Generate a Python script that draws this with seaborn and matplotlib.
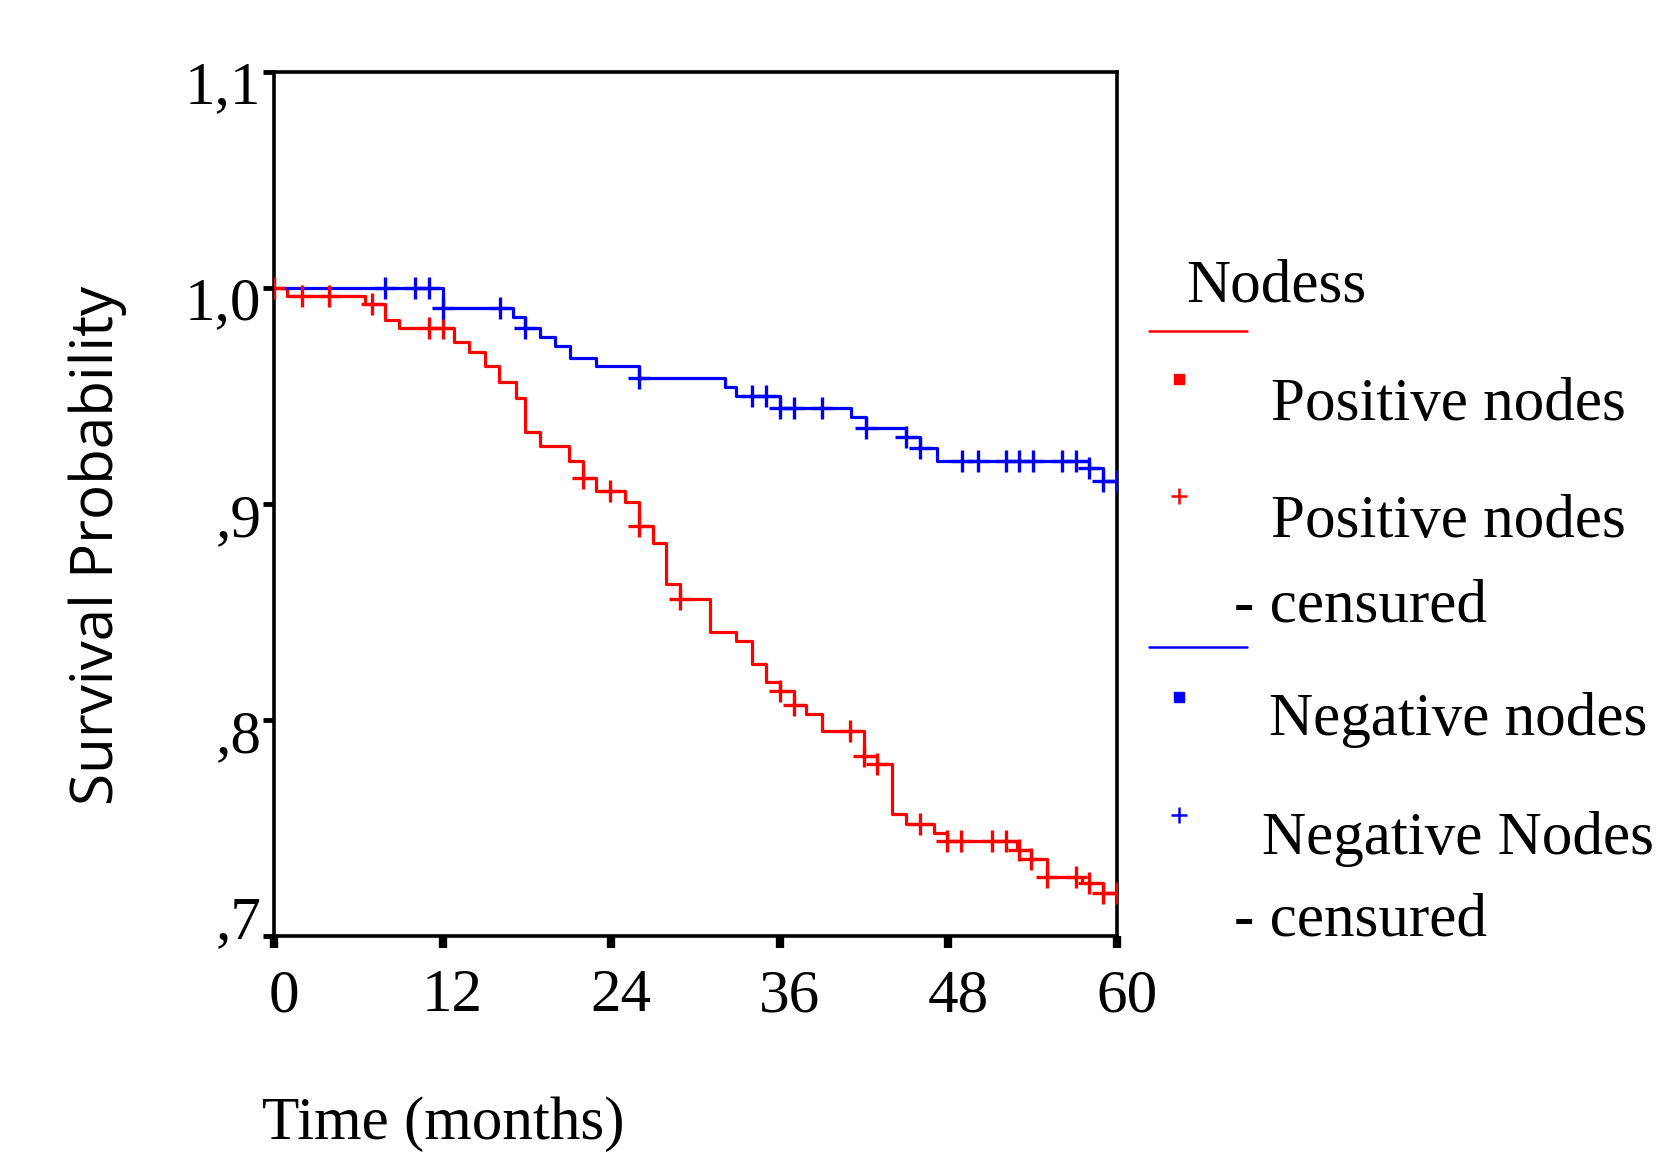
import numpy as np
import pandas as pd
import seaborn as sns
import matplotlib.pyplot as plt
from matplotlib.lines import Line2D
from matplotlib.transforms import ScaledTranslation

# Kaplan-Meier steps (time in months, survival after the step)
pos_time = [0, 0.9, 6.5, 7.9, 8.9, 12.8, 13.9, 15.0, 16.0, 17.2, 17.9, 18.9, 21.0, 22.0,
            22.9, 25.0, 26.0, 27.0, 27.9, 28.9, 31.0, 32.9, 34.0, 35.0, 36.0, 37.0, 37.9,
            39.0, 42.0, 42.9, 44.0, 45.0, 47.0, 47.9, 52.9, 53.9, 55.0, 57.5, 59.0, 60.0]
pos_surv = [1.0, 0.9963, 0.9924, 0.9852, 0.9813, 0.9751, 0.9705, 0.9639, 0.9563, 0.9489,
            0.9335, 0.9269, 0.9199, 0.9119, 0.9062, 0.9010, 0.8898, 0.8818, 0.8628, 0.8560,
            0.8409, 0.8367, 0.8258, 0.8177, 0.8136, 0.8069, 0.8026, 0.7948, 0.7833, 0.7796,
            0.7565, 0.7519, 0.7478, 0.7441, 0.7398, 0.7355, 0.7275, 0.7245, 0.7198, 0.7198]
pos_cens = [0, 2.0, 3.9, 7.0, 11.0, 12.0, 22.0, 23.9, 26.0, 28.9, 36.0, 37.0, 41.0, 42.0,
            42.9, 46.0, 47.9, 48.9, 51.1, 52.1, 53.0, 53.9, 55.0, 57.1, 58.0, 59.0, 60.0]

neg_time = [0, 12.0, 17.0, 17.9, 18.9, 20.0, 21.1, 22.9, 26.0, 32.1, 32.9, 36.0, 41.1,
            42.1, 45.0, 46.0, 47.2, 58.0, 59.0, 60.0]
neg_surv = [1.0, 0.9906, 0.9867, 0.9813, 0.9772, 0.9731, 0.9674, 0.9639, 0.9582, 0.9543,
            0.9500, 0.9446, 0.9404, 0.9350, 0.9309, 0.9258, 0.9199, 0.9165, 0.9108, 0.9108]
neg_cens = [7.9, 10.0, 11.0, 12.0, 16.1, 17.9, 26.0, 34.0, 35.0, 36.0, 37.0, 39.0, 42.1,
            45.0, 46.0, 49.0, 50.1, 52.1, 53.0, 54.0, 56.1, 57.1, 58.0, 59.0, 60.0]

x_ticks = [0, 12, 24, 36, 48, 60]
x_ticklabels = ["0", "12", "24", "36", "48", "60"]
y_ticks = [0.7, 0.8, 0.9, 1.0, 1.1]
y_ticklabels = [",7", ",8", ",9", "1,0", "1,1"]

RED = "#ff0000"
BLUE = "#0000ff"
SERIF = "Liberation Serif"


def censor_points(times, surv, cens):
    # survival value of the step curve at each censoring time
    t = np.array(times)
    s = np.array(surv)
    idx = np.searchsorted(t, np.array(cens), side="right") - 1
    return pd.DataFrame({"time": cens, "surv": s[idx]})


sns.set_theme(style="white")
plt.rcParams["font.family"] = [SERIF, "DejaVu Sans"]
plt.rcParams["text.color"] = "black"
plt.rcParams["axes.labelcolor"] = "black"
plt.rcParams["xtick.color"] = "black"
plt.rcParams["ytick.color"] = "black"

fig = plt.figure(figsize=(16.64, 11.54), dpi=100)
ax = fig.add_axes([274 / 1664, 1 - 936 / 1154, 843 / 1664, 864 / 1154])

curves = [(pos_time, pos_surv, pos_cens, RED), (neg_time, neg_surv, neg_cens, BLUE)]
for times, surv, cens, col in curves:
    df = pd.DataFrame({"time": times, "surv": surv})
    sns.lineplot(data=df, x="time", y="surv", estimator=None, sort=True,
                 drawstyle="steps-post", color=col, linewidth=2.3, ax=ax)
    cdf = censor_points(times, surv, cens)
    sns.scatterplot(data=cdf, x="time", y="surv", marker="+", s=260, color=col,
                    linewidth=2.4, ax=ax, zorder=3)

ax.set_xlim(0, 60)
ax.set_ylim(0.7, 1.1)
ax.set_xticks(x_ticks)
ax.set_xticklabels(x_ticklabels)
ax.set_yticks(y_ticks)
ax.set_yticklabels(y_ticklabels)

for sp in ax.spines.values():
    sp.set_visible(True)
    sp.set_color("black")
    sp.set_linewidth(2.6)

ax.tick_params(axis="x", direction="out", length=8.5, width=6, colors="black",
               labelsize=44, pad=15, bottom=True)
ax.tick_params(axis="y", direction="out", length=8, width=3.5, colors="black",
               labelsize=44, pad=1, left=True)

# nudge tick labels like the original
for lab in ax.get_xticklabels():
    lab.set_transform(lab.get_transform() + ScaledTranslation(0.10, 0, fig.dpi_scale_trans))
y_shift = [0.19, -0.11, -0.11, -0.10, -0.10]
for lab, dy in zip(ax.get_yticklabels(), y_shift):
    lab.set_transform(lab.get_transform() + ScaledTranslation(0, dy, fig.dpi_scale_trans))

ax.set_xlabel("Time (months)", fontsize=44, family=SERIF, color="black")
ax.xaxis.label.set_ha("left")
ax.xaxis.label.set_va("baseline")
ax.xaxis.set_label_coords((262 - 274) / 843, (936 - 1139) / 864)

ax.set_ylabel("Survival Probability", fontsize=42, family=["Open Sans", "DejaVu Sans"],
              color="black")
ax.yaxis.label.set_ha("center")
ax.yaxis.label.set_va("center")
ax.yaxis.set_label_coords((98 - 274) / 843, (936 - 545) / 864)


# legend drawn by hand, laid out like the SPSS one
def fx(px):
    return px / 1664


def fy(py):
    return 1 - py / 1154


def legend_text(px, py, s):
    fig.text(fx(px), fy(py), s, fontsize=44, family=SERIF, color="black",
             ha="left", va="baseline")


legend_text(1186, 302, "Nodess")
for col, ly in [(RED, 331), (BLUE, 647)]:
    fig.add_artist(Line2D([fx(1149), fx(1247)], [fy(ly), fy(ly)], color=col,
                          linewidth=1.8, transform=fig.transFigure))
for col, sy, py in [(RED, 379, 496), (BLUE, 697, 815)]:
    fig.add_artist(Line2D([fx(1179)], [fy(sy)], marker="s", markersize=7, color=col,
                          linestyle="none", transform=fig.transFigure))
    fig.add_artist(Line2D([fx(1179)], [fy(py)], marker="+", markersize=12, color=col,
                          markeredgewidth=1.8, linestyle="none", transform=fig.transFigure))

legend_text(1271, 420, "Positive nodes")
legend_text(1271, 537, "Positive nodes")
legend_text(1234, 621, "- censured")
legend_text(1269, 735, "Negative nodes")
legend_text(1262, 854, "Negative Nodes")
legend_text(1234, 936, "- censured")

fig.savefig("out.png", dpi=100)
